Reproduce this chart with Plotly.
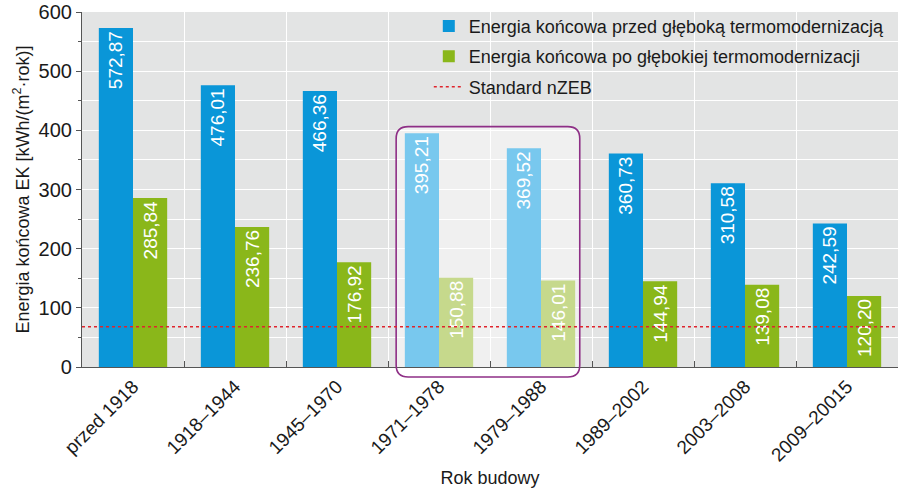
import plotly.graph_objects as go

categories = ["przed 1918", "1918–1944", "1945–1970", "1971–1978",
              "1979–1988", "1989–2002", "2003–2008", "2009–20015"]
before = [572.87, 476.01, 466.36, 395.21, 369.52, 360.73, 310.58, 242.59]
after = [285.84, 236.76, 176.92, 150.88, 146.01, 144.94, 139.08, 120.20]
nzeb = 68
highlight = ["1971–1978", "1979–1988"]

name_before = "Energia końcowa przed głęboką termomodernizacją"
name_after = "Energia końcowa po głębokiej termomodernizacji"
name_nzeb = "Standard nZEB"

BLUE, BLUE_L = "#0a96d8", "#78c8ee"
GREEN, GREEN_L = "#8ab71a", "#c6d98c"
FONT = "Liberation Sans, Arial, sans-serif"


def fmt(v):
    return f"{v:.2f}".replace(".", ",")


fig = go.Figure()
fig.add_trace(go.Bar(
    x=categories, y=before, name=name_before,
    marker=dict(color=[BLUE_L if c in highlight else BLUE for c in categories], line_width=0),
    text=[fmt(v) for v in before], textposition="inside", insidetextanchor="end",
    textangle=-90, textfont=dict(color="white", size=19, family=FONT),
    constraintext="none", legendgroup="a",
))
fig.add_trace(go.Bar(
    x=categories, y=after, name=name_after,
    marker=dict(color=[GREEN_L if c in highlight else GREEN for c in categories], line_width=0),
    text=[fmt(v) for v in after], textposition="inside", insidetextanchor="end",
    textangle=-90, textfont=dict(color="white", size=19, family=FONT),
    constraintext="none", legendgroup="b",
))

n = len(categories)
i0 = categories.index(highlight[0]) - 0.42
i1 = categories.index(highlight[-1]) + 0.38
px0 = (i0 + 0.5) / n
px1 = (i1 + 0.5) / n
rx = 12 / 818.0
ytop = 406
ry = 12 / 355 * 600
fill_path = (f"M{px0},0 L{px0},{ytop-ry} Q{px0},{ytop} {px0+rx},{ytop} "
             f"L{px1-rx},{ytop} Q{px1},{ytop} {px1},{ytop-ry} L{px1},0 Z")
fig.add_shape(type="path", path=fill_path, xref="paper", yref="y",
              fillcolor="#f0f0f0", line_width=0, layer="below")
pt, pb = 0.677, -0.028
ryp = 12 / 355
outline = (f"M{px0+rx},{pt} L{px1-rx},{pt} Q{px1},{pt} {px1},{pt-ryp} "
           f"L{px1},{pb+ryp} Q{px1},{pb} {px1-rx},{pb} L{px0+rx},{pb} "
           f"Q{px0},{pb} {px0},{pb+ryp} L{px0},{pt-ryp} Q{px0},{pt} {px0+rx},{pt} Z")
fig.add_shape(type="path", path=outline, xref="paper", yref="paper",
              line=dict(color="#8e2f86", width=1.6), layer="above")

fig.add_shape(type="line", xref="paper", yref="y", x0=0, x1=1, y0=nzeb, y1=nzeb,
              line=dict(color="#e0242c", width=1.4, dash="dot"), layer="above",
              showlegend=True, name=name_nzeb, legendgroup="c")

fig.update_layout(
    width=900, height=491,
    margin=dict(l=82, r=2, t=12, b=124),
    paper_bgcolor="white", plot_bgcolor="#e3e4e4",
    barmode="group", bargap=0.33, bargroupgap=0,
    font=dict(family=FONT, color="#1a1a1a", size=16),
    legend=dict(x=0.425, y=1.012, xanchor="left", yanchor="top",
                bgcolor="rgba(0,0,0,0)", font=dict(size=18, family=FONT),
                tracegroupgap=4, traceorder="grouped", itemwidth=30),
    showlegend=True,
)
fig.update_xaxes(
    type="category", tickangle=-45, tickson="boundaries",
    ticks="inside", ticklen=6, tickcolor="#555",
    showgrid=True, gridcolor="white", gridwidth=1,
    showline=True, linecolor="#555", linewidth=1.2,
    tickfont=dict(size=19, family=FONT),
    title=dict(text="Rok budowy", font=dict(size=18, family=FONT), standoff=6),
)
fig.update_yaxes(
    range=[0, 600], dtick=100, ticks="outside", ticklen=5, tickcolor="#555",
    showgrid=True, gridcolor="white", gridwidth=1.2,
    minor=dict(dtick=50, showgrid=True, gridcolor="white", gridwidth=1,
               ticks="outside", ticklen=3, tickcolor="#555"),
    showline=True, linecolor="#555", linewidth=1.2,
    tickfont=dict(size=20, family=FONT),
    title=dict(text="Energia końcowa EK [kWh/(m<sup>2</sup>·rok)]",
               font=dict(size=18, family=FONT), standoff=4),
    zeroline=False,
)

fig.write_html("out.html")
